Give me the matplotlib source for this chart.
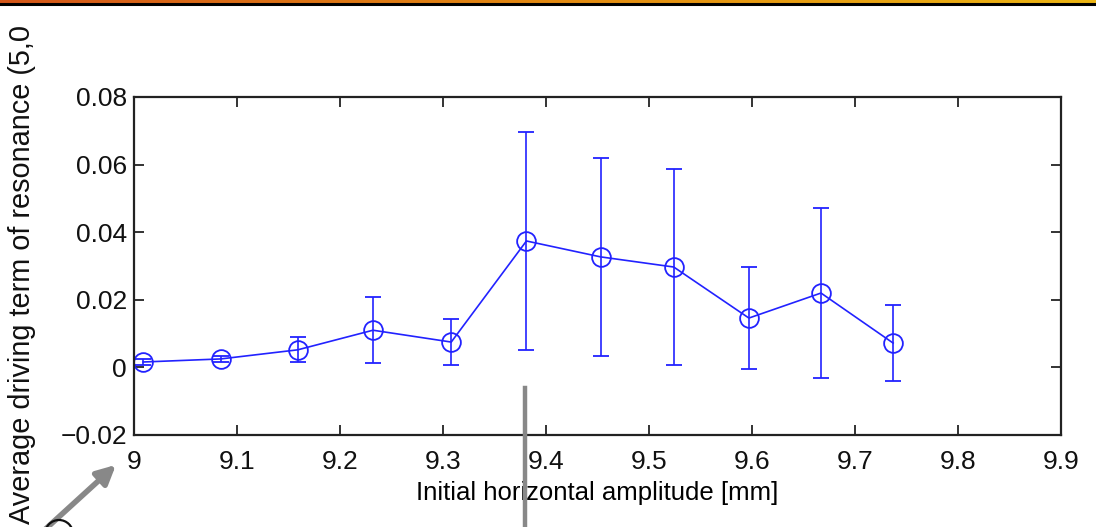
import numpy as np
import matplotlib
matplotlib.use('Agg')
import matplotlib.pyplot as plt
from matplotlib.patches import FancyArrowPatch, Circle
from matplotlib.lines import Line2D
from matplotlib.colors import LinearSegmentedColormap

# amplitude scan: mean driving term and its spread
amplitude = [9.009, 9.084, 9.159, 9.232, 9.308, 9.381, 9.453, 9.524, 9.597, 9.667, 9.737]
driving_term = [0.0016, 0.0025, 0.0052, 0.0110, 0.0075, 0.0374, 0.0327, 0.0297, 0.0146, 0.0220, 0.0072]
driving_err = [0.0010, 0.0008, 0.0037, 0.0097, 0.0067, 0.0323, 0.0294, 0.0290, 0.0152, 0.0251, 0.0113]

xticks = [9, 9.1, 9.2, 9.3, 9.4, 9.5, 9.6, 9.7, 9.8, 9.9]
xtick_labels = ['9', '9.1', '9.2', '9.3', '9.4', '9.5', '9.6', '9.7', '9.8', '9.9']
yticks = [-0.02, 0, 0.02, 0.04, 0.06, 0.08]
ytick_labels = ['\u22120.02', '0', '0.02', '0.04', '0.06', '0.08']

plt.rcParams['font.family'] = ['Liberation Sans', 'DejaVu Sans']

W, H = 1096, 527
fig = plt.figure(figsize=(W / 100, H / 100), dpi=100)
fig.patch.set_facecolor('white')

ax = fig.add_axes([134 / W, 1 - 435 / H, (1061 - 134) / W, (435 - 97) / H])
blue = '#2222ff'
ax.errorbar(amplitude, driving_term, yerr=driving_err, color=blue, lw=1.2,
            marker='o', markersize=13.5, markerfacecolor='none', markeredgecolor=blue,
            markeredgewidth=1.3, capsize=5.5, capthick=1.2, elinewidth=1.2)

ax.set_xlim(9, 9.9)
ax.set_ylim(-0.02, 0.08)
ax.set_xticks(xticks)
ax.set_xticklabels(xtick_labels)
ax.set_yticks(yticks)
ax.set_yticklabels(ytick_labels)
ax.tick_params(direction='in', length=7.5, width=1.2, top=True, right=True,
               labelsize=19, colors='#111111')
ax.tick_params(axis='x', pad=11)
ax.tick_params(axis='y', pad=5)
for s in ax.spines.values():
    s.set_linewidth(1.6)
    s.set_color('#222222')
ax.set_xlabel('Initial horizontal amplitude [mm]', fontsize=18.5, labelpad=5)

# y label, running the full height of the slide
fig.text(22 / W, 3 / H, 'Average driving term of resonance (5,0', rotation=90,
         ha='center', va='bottom', fontsize=20.8, color='#111111')

# slide header strip: orange gradient over a black rule
hdr = fig.add_axes([0, 1 - 3 / H, 1, 3 / H])
grad = np.linspace(0, 1, 256)[None, :]
cmap = LinearSegmentedColormap.from_list('hdr', ['#d4571a', '#e38a12', '#ecb514'])
hdr.imshow(grad, aspect='auto', cmap=cmap, extent=[0, 1, 0, 1])
hdr.axis('off')
fig.add_artist(Line2D([0, 1], [1 - 4 / H, 1 - 4 / H], transform=fig.transFigure,
                      color='black', lw=2.2))

# annotations on the slide
fig.add_artist(FancyArrowPatch((42 / W, -0.01), (118 / W, 1 - 463 / H),
                               transform=fig.transFigure, arrowstyle='-|>',
                               mutation_scale=28, lw=4, color='#888888'))
fig.add_artist(Line2D([525 / W, 525 / W], [0, 1 - 388 / H], transform=fig.transFigure,
                      color='#888888', lw=3.2))
fig.add_artist(Circle((59, -7), 14, transform=None, fill=False, ec='#111111', lw=1.6))

fig.savefig('out.png', dpi=100)
